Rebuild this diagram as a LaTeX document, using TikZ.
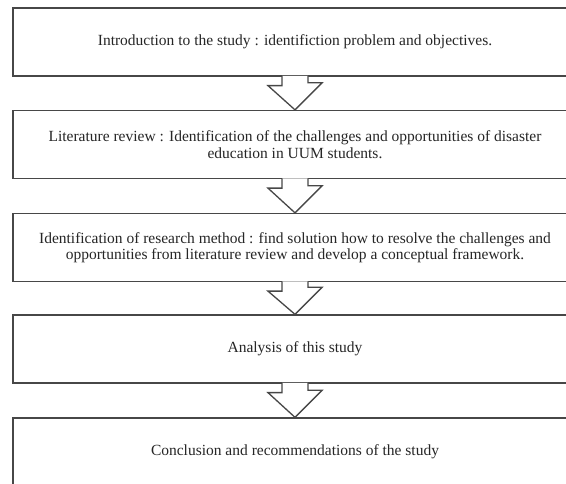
\documentclass[tikz,border=0pt]{standalone}
\usepackage{fontspec}
\setmainfont{Liberation Serif}
\usetikzlibrary{calc}

\tikzset{
    stagebox/.style={draw=black!72, line width=1.3pt, fill=white, minimum width=564pt, minimum height=68pt, align=center, font=\fontsize{15.5}{16.5}\selectfont, text=black!85, inner sep=0pt},
    downarrow/.style={draw=black!72, line width=1.3pt, fill=white, line join=miter}
}

\begin{document}
\begin{tikzpicture}[x=1pt, y=-1pt]
    \useasboundingbox (0,0) rectangle (566,484);
    \clip (0,0) rectangle (566,484);
    \node[stagebox] (intro) at (295, 42) {Introduction to the study : identifiction problem and objectives.};
    \node[stagebox] (review) at (295, 144.5) {Literature review : Identification of the challenges and opportunities of disaster\\education in UUM students.};
    \node[stagebox] (method) at (295, 247.5) {Identification of research method : find solution how to resolve the challenges and\\opportunities from literature review and develop a conceptual framework.};
    \node[stagebox] (analysis) at (295, 349) {Analysis of this study};
    \node[stagebox] (concl) at (295, 452) {Conclusion and recommendations of the study};
    % hollow arrows between the stages
    \foreach \a/\b in {intro/review, review/method, method/analysis, analysis/concl}
        \draw[downarrow] ([xshift=-13pt, yshift=0.8pt]\a.south) -- ++(0,-9.8pt) -- ++(-14pt,0) -- (\b.north) -- ++(27pt,27pt) -- ++(-14pt,0) -- ([xshift=13pt, yshift=0.8pt]\a.south);
\end{tikzpicture}
\end{document}
